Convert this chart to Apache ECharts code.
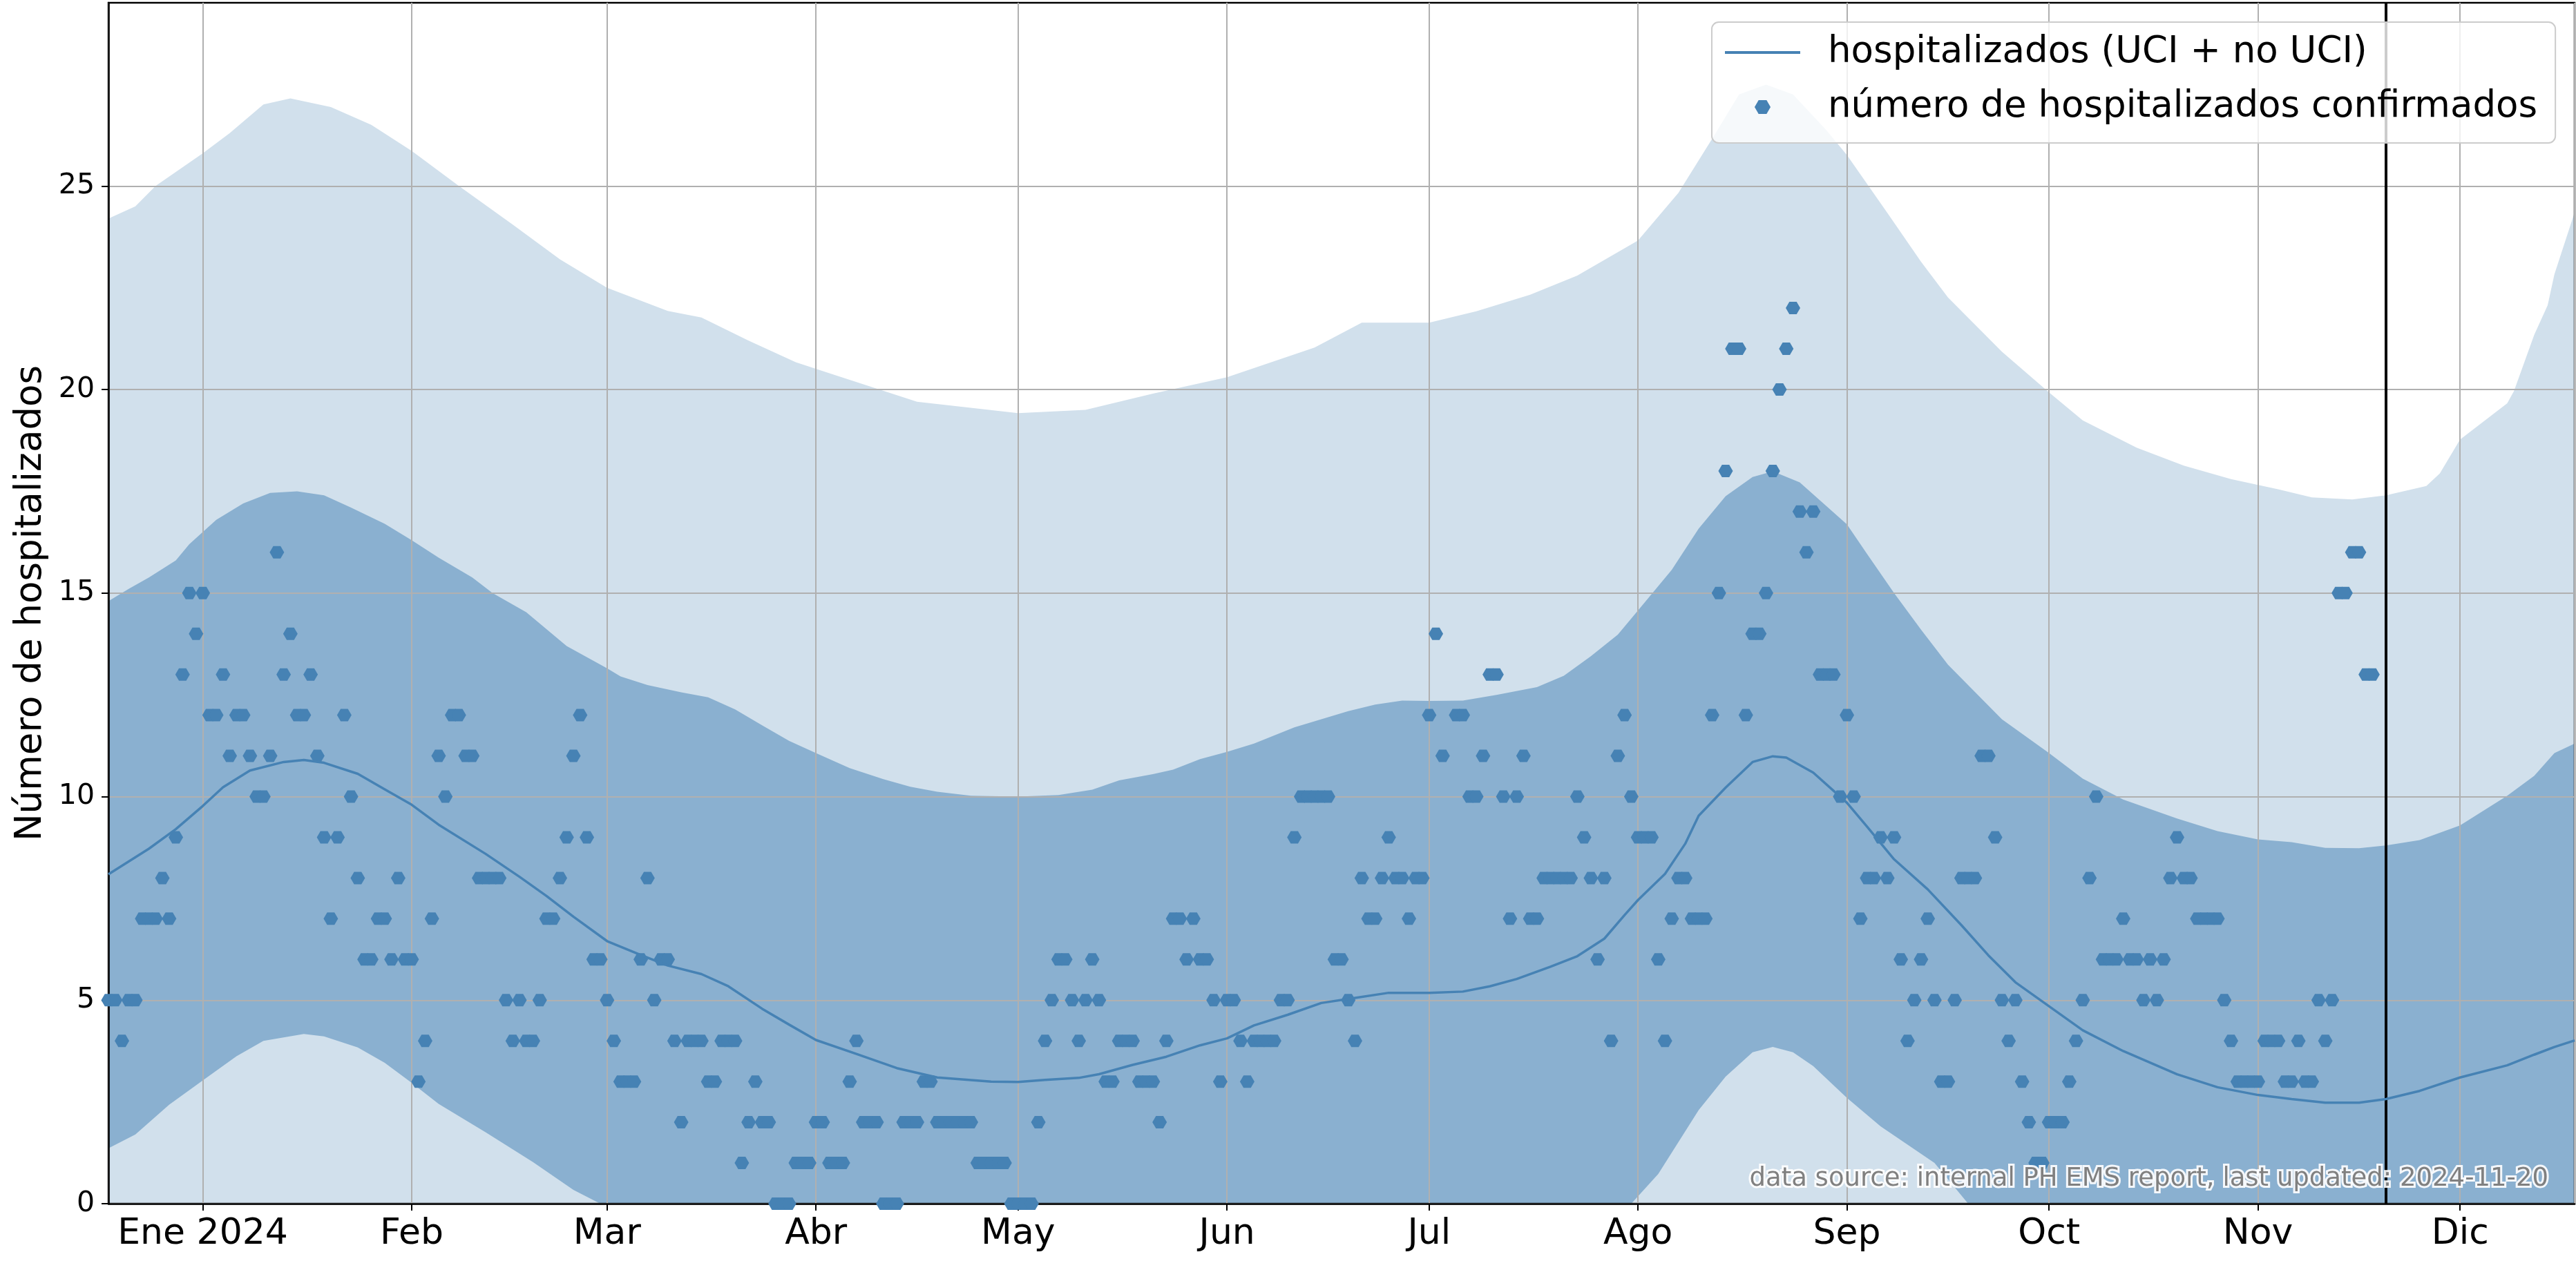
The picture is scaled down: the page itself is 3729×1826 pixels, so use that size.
<!DOCTYPE html>
<html>
<head>
<meta charset="utf-8">
<title>Número de hospitalizados</title>
<script src="https://cdn.jsdelivr.net/npm/echarts@6/dist/echarts.min.js"></script>
<style>
  html, body { margin: 0; padding: 0; background: #ffffff; }
  #chart { width: 3729px; height: 1826px; }
</style>
</head>
<body>
<div id="chart"></div>
<script>
// eje x
const startDate = '2023-12-18';   // día 0 de todas las series
const xMin = '2023-12-18';
const xMax = '2024-12-18';
const updateDate = '2024-11-20';  // línea vertical negra
const monthLabels = ['Ene', 'Feb', 'Mar', 'Abr', 'May', 'Jun', 'Jul', 'Ago', 'Sep', 'Oct', 'Nov', 'Dic'];
const yTicks = [0, 5, 10, 15, 20, 25];

// hospitalizados confirmados, un valor por día desde startDate (null = sin dato)
const dailyConfirmed = [
  5, 5, 4, 5, 5, 7, 7, 7, 8, 7,
  9, 13, 15, 14, 15, 12, 12, 13, 11, 12,
  12, 11, 10, 10, 11, 16, 13, 14, 12, 12,
  13, 11, 9, 7, 9, 12, 10, 8, 6, 6,
  7, 7, 6, 8, 6, 6, 3, 4, 7, 11,
  10, 12, 12, 11, 11, 8, 8, 8, 8, 5,
  4, 5, 4, 4, 5, 7, 7, 8, 9, 11,
  12, 9, 6, 6, 5, 4, 3, 3, 3, 6,
  8, 5, 6, 6, 4, 2, 4, 4, 4, 3,
  3, 4, 4, 4, 1, 2, 3, 2, 2, 0,
  0, 0, 1, 1, 1, 2, 2, 1, 1, 1,
  3, 4, 2, 2, 2, 0, 0, 0, 2, 2,
  2, 3, 3, 2, 2, 2, 2, 2, 2, 1,
  1, 1, 1, 1, 0, 0, 0, 0, 2, 4,
  5, 6, 6, 5, 4, 5, 6, 5, 3, 3,
  4, 4, 4, 3, 3, 3, 2, 4, 7, 7,
  6, 7, 6, 6, 5, 3, 5, 5, 4, 3,
  4, 4, 4, 4, 5, 5, 9, 10, 10, 10,
  10, 10, 6, 6, 5, 4, 8, 7, 7, 8,
  9, 8, 8, 7, 8, 8, 12, 14, 11, null,
  12, 12, 10, 10, 11, 13, 13, 10, 7, 10,
  11, 7, 7, 8, 8, 8, 8, 8, 10, 9,
  8, 6, 8, 4, 11, 12, 10, 9, 9, 9,
  6, 4, 7, 8, 8, 7, 7, 7, 12, 15,
  18, 21, 21, 12, 14, 14, 15, 18, 20, 21,
  22, 17, 16, 17, 13, 13, 13, 10, 12, 10,
  7, 8, 8, 9, 8, 9, 6, 4, 5, 6,
  7, 5, 3, 3, 5, 8, 8, 8, 11, 11,
  9, 5, 4, 5, 3, 2, 1, 1, 2, 2,
  2, 3, 4, 5, 8, 10, 6, 6, 6, 7,
  6, 6, 5, 6, 5, 6, 8, 9, 8, 8,
  7, 7, 7, 7, 5, 4, 3, 3, 3, 3,
  4, 4, 4, 3, 3, 4, 3, 3, 5, 4,
  5, 15, 15, 16, 16, 13, 13
];

// curvas del modelo: [día desde startDate, valor]
const medianLine = [
  [0, 8.09], [6, 8.72], [10, 9.2], [14, 9.77], [17, 10.23], [21, 10.64], [26, 10.85], [29, 10.9],
  [32, 10.83], [37, 10.56], [41, 10.18], [45, 9.8], [49, 9.31], [56, 8.59], [61, 8.03], [65, 7.56],
  [69, 7.05], [74, 6.45], [79, 6.11], [83, 5.85], [88, 5.64], [92, 5.34], [97, 4.79], [101, 4.4],
  [105, 4.02], [111, 3.68], [117, 3.33], [123, 3.1], [127, 3.05], [131, 3.0], [135, 2.99], [139, 3.04],
  [144, 3.09], [147, 3.18], [152, 3.41], [157, 3.61], [162, 3.89], [166, 4.06], [170, 4.38], [175, 4.64],
  [180, 4.93], [184, 5.03], [190, 5.18], [196, 5.18], [201, 5.21], [205, 5.34], [209, 5.52], [214, 5.82],
  [218, 6.08], [222, 6.51], [225, 7.09], [227, 7.46], [231, 8.1], [234, 8.84], [236, 9.53], [240, 10.22],
  [244, 10.85], [247, 10.99], [249, 10.96], [253, 10.59], [258, 9.85], [261, 9.26], [265, 8.46], [270, 7.72],
  [275, 6.84], [279, 6.1], [283, 5.44], [288, 4.85], [293, 4.26], [299, 3.75], [307, 3.18], [313, 2.86],
  [319, 2.67], [324, 2.57], [329, 2.48], [334, 2.48], [338, 2.57], [343, 2.77], [349, 3.1], [356, 3.4],
  [360, 3.66], [363, 3.85], [366, 4.01]
];

const outerUpper = [
  [0, 24.2], [4, 24.5], [7, 25.0], [14, 25.8], [18, 26.3], [23, 27.0], [27, 27.15], [33, 26.94],
  [39, 26.5], [45, 25.86], [52, 25.0], [60, 24.05], [67, 23.2], [74, 22.5], [83, 21.93], [88, 21.77],
  [95, 21.2], [102, 20.67], [107, 20.4], [120, 19.7], [135, 19.42], [145, 19.5], [155, 19.9], [166, 20.3],
  [179, 21.03], [186, 21.64], [196, 21.64], [203, 21.92], [211, 22.33], [218, 22.8], [227, 23.66], [233, 24.83],
  [238, 26.16], [242, 27.25], [246, 27.49], [250, 27.25], [255, 26.36], [258, 25.76], [264, 24.34], [269, 23.14],
  [273, 22.26], [281, 20.93], [288, 19.93], [293, 19.24], [301, 18.57], [308, 18.13], [315, 17.8], [322, 17.55],
  [327, 17.35], [333, 17.3], [338, 17.4], [344, 17.63], [346, 17.94], [349, 18.77], [356, 19.66], [357, 19.96],
  [360, 21.34], [362, 22.07], [363, 22.83], [366, 24.35]
];

const innerUpper = [
  [0, 14.8], [3, 15.1], [6, 15.38], [10, 15.8], [12, 16.2], [16, 16.8], [20, 17.2], [24, 17.46],
  [28, 17.5], [32, 17.4], [36, 17.1], [41, 16.7], [45, 16.3], [49, 15.87], [54, 15.38], [57, 15.0],
  [62, 14.53], [68, 13.7], [74, 13.15], [76, 12.95], [80, 12.74], [85, 12.56], [89, 12.44], [93, 12.14],
  [97, 11.75], [101, 11.37], [105, 11.07], [110, 10.7], [115, 10.43], [119, 10.24], [123, 10.12], [128, 10.02],
  [135, 10.0], [141, 10.04], [146, 10.17], [150, 10.4], [155, 10.55], [158, 10.66], [162, 10.92], [166, 11.1],
  [170, 11.3], [176, 11.7], [184, 12.1], [188, 12.26], [192, 12.36], [196, 12.35], [201, 12.36], [206, 12.5],
  [212, 12.69], [216, 12.97], [220, 13.45], [224, 13.98], [227, 14.57], [232, 15.57], [236, 16.58], [240, 17.38],
  [244, 17.85], [247, 17.99], [251, 17.72], [258, 16.69], [261, 15.96], [265, 15.0], [269, 14.1], [273, 13.24],
  [277, 12.57], [281, 11.9], [288, 11.07], [293, 10.44], [299, 9.93], [307, 9.46], [313, 9.15], [319, 8.95],
  [324, 8.88], [329, 8.74], [334, 8.73], [338, 8.8], [343, 8.93], [349, 9.29], [356, 10.02], [360, 10.51],
  [363, 11.07], [366, 11.3]
];

// por debajo de 0 la banda queda recortada por el eje
const innerLower = [
  [0, 1.36], [4, 1.7], [9, 2.43], [14, 3.03], [19, 3.62], [23, 4.0], [29, 4.17], [32, 4.11],
  [37, 3.84], [41, 3.46], [45, 2.97], [49, 2.45], [56, 1.75], [63, 1.02], [69, 0.34], [73, 0],
  [226, 0], [230, 0.73], [236, 2.3], [240, 3.12], [244, 3.72], [247, 3.85], [250, 3.72], [253, 3.38],
  [258, 2.6], [263, 1.9], [267, 1.45], [271, 1.0], [276, 0], [366, 0]
];

const sourceNote = 'data source: internal PH EMS report, last updated: 2024-11-20';
const lineName = 'hospitalizados (UCI + no UCI)';
const pointsName = 'número de hospitalizados confirmados';

const DAY = 86400000;
const FONT = '"DejaVu Sans", sans-serif';
const BLUE = '#4682b4';
const LIGHT = '#d1e0ec';
const DARK = '#8ab0d0';
// hexágono con puntas a izquierda y derecha
const HEX = 'path://M0,866L500,0L1500,0L2000,866L1500,1732L500,1732Z';
// trazo del icono de la leyenda para la línea
const LEGEND_LINE = 'path://M0,0L109,0L109,4L0,4Z';

const ts = (s) => Date.parse(s + 'T00:00:00Z');
const t0 = ts(startDate);
const toPoints = (pairs) => pairs.map(p => [t0 + p[0] * DAY, p[1]]);

const confirmedPoints = dailyConfirmed
  .map((v, i) => [t0 + i * DAY, v])
  .filter(p => p[1] !== null);

const bandSeries = (name, pairs, color, z) => ({
  name: name,
  type: 'line',
  data: toPoints(pairs),
  symbol: 'none',
  silent: true,
  lineStyle: { opacity: 0 },
  areaStyle: { color: color, opacity: 1, origin: 'start' },
  z: z
});

const chart = echarts.init(document.getElementById('chart'));

chart.setOption({
  animation: false,
  useUTC: true,
  backgroundColor: '#ffffff',
  grid: {
    left: 157, right: 2, top: 4, bottom: 83,
    show: true, borderColor: '#000', borderWidth: 2.5,
    backgroundColor: 'transparent',
    containLabel: false, outerBoundsMode: 'none',
    z: 4
  },
  xAxis: {
    type: 'time',
    min: ts(xMin),
    max: ts(xMax),
    minInterval: 28 * DAY,
    maxInterval: 31 * DAY,
    z: 4,
    axisLine: { show: true, lineStyle: { color: '#000', width: 2.5 } },
    axisTick: { show: true, length: 10, lineStyle: { color: '#000', width: 2 } },
    axisLabel: {
      fontFamily: FONT, fontSize: 52, color: '#000', margin: 18, hideOverlap: false,
      formatter: (value) => {
        const d = new Date(value);
        if (d.getUTCDate() !== 1) return '';
        const m = d.getUTCMonth();
        return m === 0 ? monthLabels[0] + ' ' + d.getUTCFullYear() : monthLabels[m];
      }
    },
    splitLine: { show: true, lineStyle: { color: '#b0b0b0', width: 2 } }
  },
  yAxis: {
    type: 'value',
    min: 0,
    max: 29.5,
    interval: 5,
    z: 4,
    name: 'Número de hospitalizados',
    nameLocation: 'middle',
    nameRotate: 90,
    nameGap: 85,
    nameTextStyle: { fontFamily: FONT, fontSize: 53, color: '#000' },
    axisLine: { show: true, lineStyle: { color: '#000', width: 2.5 } },
    axisTick: { show: true, length: 10, customValues: yTicks, lineStyle: { color: '#000', width: 2 } },
    axisLabel: {
      fontFamily: FONT, fontSize: 41, color: '#000', margin: 20,
      customValues: yTicks,
      formatter: (v) => (v % 5 === 0 ? String(v) : '')
    },
    splitLine: { show: true, lineStyle: { color: '#b0b0b0', width: 2 } }
  },
  legend: {
    orient: 'vertical',
    left: 2478,
    top: 32,
    z: 10,
    selectedMode: false,
    data: [{ name: lineName, icon: LEGEND_LINE }, { name: pointsName, icon: HEX }],
    itemWidth: 109,
    itemHeight: 20,
    itemGap: 19,
    padding: [14, 26, 22, 19],
    backgroundColor: 'rgba(255,255,255,0.8)',
    borderColor: '#cccccc',
    borderWidth: 2,
    borderRadius: 10,
    textStyle: { fontFamily: FONT, fontSize: 53, color: '#000', lineHeight: 60, padding: [0, 0, 0, 35] }
  },
  graphic: [{
    type: 'text',
    right: 37,
    top: 1686,
    z: 10,
    silent: true,
    style: {
      text: sourceNote,
      font: '37px "DejaVu Sans", sans-serif',
      fill: '#808080',
      stroke: 'rgba(255,255,255,0.9)',
      lineWidth: 6
    }
  }],
  series: [
    bandSeries('banda exterior', outerUpper, LIGHT, 1),
    bandSeries('banda interior', innerUpper, DARK, 2),
    bandSeries('banda interior inferior', innerLower, LIGHT, 3),
    {
      name: lineName,
      type: 'line',
      data: toPoints(medianLine),
      symbol: 'none',
      color: BLUE,
      lineStyle: { color: BLUE, width: 3.5 },
      z: 6,
      markLine: {
        silent: true,
        symbol: ['none', 'none'],
        label: { show: false },
        lineStyle: { color: '#000', width: 4, type: 'solid' },
        data: [{ xAxis: ts(updateDate) }]
      }
    },
    {
      name: pointsName,
      type: 'scatter',
      data: confirmedPoints,
      symbol: HEX,
      symbolSize: [21, 18],
      color: BLUE,
      itemStyle: { color: BLUE, opacity: 1 },
      z: 5
    }
  ]
});
</script>
</body>
</html>
